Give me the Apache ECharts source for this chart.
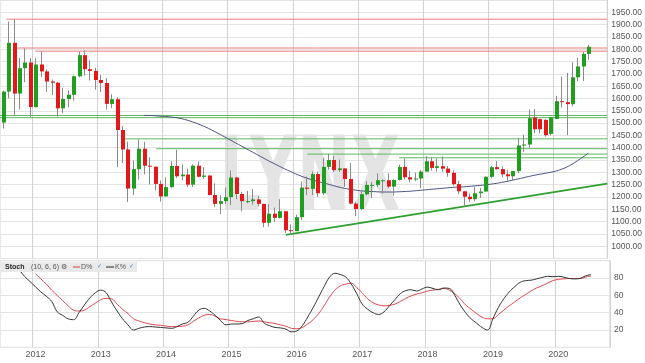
<!DOCTYPE html>
<html><head><meta charset="utf-8">
<script src="https://cdn.jsdelivr.net/npm/echarts@6/dist/echarts.min.js"></script>
<style>html,body{margin:0;padding:0;background:#fff}#c{width:645px;height:363px}</style>
</head><body><div id="c"></div>
<script>
// ---------- DATA ----------
const firstYear = 2011, firstMonth = 7;   // first candle: July 2011 (monthly candles)
const emptySlots = 3;                     // free space right of the last candle
// monthly candles [open, high, low, close]
const ohlc = [
 [1502,1632,1478,1628],[1628,1913,1600,1826],[1826,1921,1532,1620],[1620,1764,1555,1723],[1723,1803,1666,1746],[1746,1764,1523,1565],
 [1565,1764,1563,1738],[1738,1792,1688,1710],[1710,1718,1627,1669],[1669,1677,1614,1664],[1664,1667,1527,1560],[1560,1642,1540,1598],
 [1598,1633,1564,1615],[1615,1693,1591,1690],[1690,1790,1686,1776],[1776,1796,1693,1719],[1719,1755,1673,1712],[1712,1725,1636,1675],
 [1675,1695,1626,1663],[1663,1683,1555,1578],[1578,1617,1562,1597],[1597,1605,1321,1472],[1472,1488,1338,1393],[1393,1424,1180,1234],
 [1234,1348,1208,1313],[1313,1434,1271,1396],[1396,1424,1292,1327],[1327,1361,1251,1323],[1323,1324,1226,1253],[1253,1267,1181,1202],
 [1202,1280,1202,1240],[1240,1345,1237,1326],[1326,1392,1277,1284],[1284,1331,1268,1291],[1291,1315,1241,1250],[1250,1332,1240,1327],
 [1327,1345,1281,1282],[1282,1321,1273,1287],[1287,1288,1206,1208],[1208,1255,1160,1172],[1172,1208,1131,1183],[1183,1238,1171,1199],
 [1199,1307,1167,1279],[1279,1281,1191,1212],[1212,1220,1142,1183],[1183,1225,1175,1183],[1183,1232,1169,1190],[1190,1205,1162,1172],
 [1172,1172,1077,1095],[1095,1170,1080,1132],[1132,1157,1098,1115],[1115,1191,1112,1142],[1142,1142,1053,1065],[1065,1088,1046,1061],
 [1061,1128,1061,1118],[1118,1263,1107,1238],[1238,1283,1208,1233],[1233,1304,1208,1293],[1293,1303,1200,1215],[1215,1359,1208,1322],
 [1322,1375,1311,1350],[1350,1367,1301,1309],[1309,1352,1302,1316],[1316,1317,1241,1273],[1273,1338,1171,1173],[1173,1180,1122,1151],
 [1151,1220,1146,1211],[1211,1264,1207,1249],[1249,1261,1195,1249],[1249,1296,1240,1268],[1268,1271,1214,1268],[1268,1296,1236,1242],
 [1242,1272,1205,1269],[1269,1331,1267,1322],[1322,1357,1271,1280],[1280,1306,1260,1271],[1271,1299,1264,1275],[1275,1309,1236,1303],
 [1303,1366,1302,1345],[1345,1362,1307,1318],[1318,1356,1303,1325],[1325,1365,1302,1315],[1315,1326,1282,1298],[1298,1309,1246,1252],
 [1252,1265,1211,1223],[1223,1223,1160,1201],[1201,1214,1180,1191],[1191,1243,1182,1215],[1215,1237,1196,1222],[1222,1284,1221,1282],
 [1282,1326,1276,1321],[1321,1346,1311,1313],[1313,1324,1281,1292],[1292,1310,1266,1284],[1284,1306,1267,1305],[1305,1439,1296,1409],
 [1409,1453,1382,1413],[1413,1555,1400,1520],[1523,1557,1459,1475],[1516,1518,1459,1475],[1513,1516,1445,1451],[1456,1525,1450,1523],
 [1517,1611,1517,1589],[1589,1689,1563,1585],[1585,1704,1451,1577],[1577,1747,1568,1686],[1686,1765,1670,1730],[1730,1789,1671,1781],
 [1781,1818,1757,1810]
];
// moving average (starts at candle index maStart)
const maStart = 26;
const maValues = [1531,1531,1530,1528,1527,1525,1522,1518,1512,1505,1497,1488,1478,1467,1455,1443,1431,1419,1407,1395,
 1383,1371,1359,1347,1336,1325,1314,1304,1294,1285,1277,1270,1264,1258,1252,1246,1240,1235,1231,1228,
 1225,1223,1222,1221,1220,1220,1220,1221,1222,1223,1225,1227,1229,1231,1233,1235,1237,1239,1240,1241,
 1243,1245,1247,1249,1252,1255,1259,1263,1268,1273,1278,1283,1288,1292,1296,1300,1305,1312,1321,1333,
 1347,1362,1378];
// stochastic %K (from index kStart) and %D (from index dStart)
const kStart = 1;
const kValues = [96,92,89,82,76,70,64,59,53,41,37,33,32,40,49,57,63,66,63,52,42,33,26,20,22,23.5,24,23.5,23,22.5,
 22,24,27,29,36,43,45,42,37,31,26,27,27,27.5,31,33,35,28,25,23,22.5,21,18,19,25,35,46,58,70,81,
 85.5,84,81,73,62,50,44,40,38,41,48,55,62,65.5,66.5,65,67.5,69.5,68,66.5,68.5,68,60,49,40,33,28,23,20,33,
 46,56,64,70,75,77,77.5,79,80.5,82,81.5,82,81,79.5,79,79.5,82.5,84];
const dStart = 6;
const dValues = [85,79,73,66,60,54,48,43,42,43,47,51,55,56.5,56,50,44,39,33,30.5,28.5,27,26,25.5,24.5,24,24,24.5,26,30,
 34,37,38,36,33,32,31,30,29.5,29.5,30,30.5,29.5,28.5,27.5,26,24.5,22,21.5,23,27,32,39,48,58,66,71,73,74,69,
 63,56,51.5,49,48,48.5,50,53,56.5,59.5,61.5,63,65,66,67,68,66,62,56,49,44,39,35,33,33,38,43,48,52.5,57,
 61,65,68.5,71,74,77,78.5,79,79.5,79.5,79.5,81,82.5];
// horizontal lines [start candle index, price]
const redLevels = [[0.7,1922],[2.7,1805],[6,1792]];
const greenLevels = [[-0.5,1531],[-0.5,1522],[22.5,1436],[28.3,1396],[56.2,1374],[73.1,1359]];
// rising trend line [candle index, price]
const trendLine = [[52.2,1046],[111.5,1254]];
const priceRange = [950, 2000], priceStep = 50, priceLabelRange = [1000, 1950];
const stochRange = [0, 100], stochStep = 20, stochLabelRange = [20, 80];

// ---------- BUILD ----------
const categories = [];
for (let i = 0; i < ohlc.length + emptySlots; i++) {
  const m = firstMonth - 1 + i;
  const y = firstYear + Math.floor(m / 12), mm = (m % 12) + 1;
  categories.push(y + '-' + (mm < 10 ? '0' + mm : mm));
}
const lastX = categories.length - 0.5;
const candleData = ohlc.map((r, i) => [i, r[0], r[1], r[2], r[3]]);
function pad(start, arr) {
  const out = new Array(categories.length).fill(null);
  arr.forEach((v, i) => out[start + i] = v);
  return out;
}
const isJan = (idx, v) => v.slice(5) === '01';

function renderCandle(params, api) {
  const i = api.value(0), o = api.value(1), h = api.value(2), l = api.value(3), c = api.value(4);
  const pH = api.coord([i, h]), pL = api.coord([i, l]), pO = api.coord([i, o]), pC = api.coord([i, c]);
  const xc = Math.round(pH[0]);
  const top = Math.min(pO[1], pC[1]), bot = Math.max(pO[1], pC[1]);
  const up = c >= o;
  return {type: 'group', children: [
    {type: 'line', shape: {x1: xc + 0.5, y1: pH[1], x2: xc + 0.5, y2: pL[1]}, style: {stroke: '#8a8a8a', lineWidth: 1}},
    {type: 'rect', shape: {x: xc - 1, y: top, width: 4, height: Math.max(1, bot - top)}, style: {fill: up ? '#1f9e1f' : '#e4171b'}}
  ]};
}

const gridLine = {show: true, lineStyle: {color: '#e4e4e4', width: 1}};
const yearLine = {show: true, interval: isJan, lineStyle: {color: '#d2d2d2', width: 1}};
const levelSeries = (lv, color) => lv.map(l => ({
  type: 'line', xAxisIndex: 2, yAxisIndex: 0, data: [[l[0], l[1]], [lastX, l[1]]],
  symbol: 'none', silent: true, z: 3, lineStyle: {color: color, width: 1}
}));

const option = {
  animation: false,
  backgroundColor: '#ffffff',
  textStyle: {fontFamily: 'Liberation Sans'},
  grid: [
    {left: 0, right: 35, top: -4.5, height: 263, show: true, borderColor: '#cfcfcf', borderWidth: 1},
    {left: 0, right: 35, top: 260.7, height: 86.7, show: true, borderColor: '#cfcfcf', borderWidth: 1}
  ],
  xAxis: [
    {type: 'category', gridIndex: 0, data: categories, boundaryGap: true,
     axisLine: {show: false}, axisTick: {show: false}, axisLabel: {show: false}, splitLine: yearLine},
    {type: 'category', gridIndex: 1, data: categories, boundaryGap: true,
     axisLine: {show: false}, axisTick: {show: false},
     axisLabel: {interval: isJan, formatter: v => v.slice(0, 4), color: '#555', fontSize: 9, margin: 3},
     splitLine: yearLine},
    {type: 'value', gridIndex: 0, min: -0.5, max: lastX, show: false}
  ],
  yAxis: [
    {type: 'value', gridIndex: 0, position: 'right', min: priceRange[0], max: priceRange[1], interval: priceStep,
     axisLine: {show: false}, axisTick: {show: false}, splitLine: gridLine,
     axisLabel: {color: '#555', fontSize: 8.5, margin: 4,
       formatter: v => (v < priceLabelRange[0] || v > priceLabelRange[1]) ? '' : v.toFixed(2)}},
    {type: 'value', gridIndex: 1, position: 'right', min: stochRange[0], max: stochRange[1], interval: stochStep,
     axisLine: {show: false}, axisTick: {show: false}, splitLine: gridLine,
     axisLabel: {color: '#555', fontSize: 8.5, margin: 4,
       formatter: v => (v < stochLabelRange[0] || v > stochLabelRange[1]) ? '' : String(v)}}
  ],
  graphic: [
    {type: 'text', x: 219, y: 131, scaleX: 0.62, silent: true, z: -1,
     style: {text: 'LYNX', font: 'bold 104px "DejaVu Sans"', fill: 'rgba(0,0,0,0.105)'}},
    {type: 'rect', shape: {x: 0, y: 262, width: 137, height: 10}, style: {fill: '#e9e9e9'}, z: 100},
    {type: 'text', x: 5, y: 263.5, z: 101, style: {text: 'Stoch', font: 'bold 7px "Liberation Sans"', fill: '#222'}},
    {type: 'text', x: 31, y: 263.5, z: 101, style: {text: '(10, 6, 6) ⚙', font: '7px "Liberation Sans"', fill: '#555'}},
    {type: 'line', shape: {x1: 73, y1: 267, x2: 80, y2: 267}, style: {stroke: '#d9363e', lineWidth: 1}, z: 101},
    {type: 'text', x: 81, y: 263.5, z: 101, style: {text: 'D%', font: '7px "Liberation Sans"', fill: '#555'}},
    {type: 'text', x: 97, y: 263.5, z: 101, style: {text: '✓', font: '6px "DejaVu Sans"', fill: '#4a7ab0'}},
    {type: 'line', shape: {x1: 106, y1: 267, x2: 114, y2: 267}, style: {stroke: '#222', lineWidth: 1}, z: 101},
    {type: 'text', x: 115, y: 263.5, z: 101, style: {text: 'K%', font: '7px "Liberation Sans"', fill: '#555'}},
    {type: 'text', x: 129, y: 263.5, z: 101, style: {text: '✓', font: '6px "DejaVu Sans"', fill: '#4a7ab0'}}
  ],
  series: [
    ...levelSeries(redLevels, '#ef7b7b'),
    ...levelSeries(greenLevels, '#5cb85c'),
    {type: 'line', xAxisIndex: 2, yAxisIndex: 0, data: trendLine, symbol: 'none', silent: true, z: 3,
     lineStyle: {color: '#2f9f2f', width: 1.6}},
    {type: 'line', xAxisIndex: 0, yAxisIndex: 0, data: pad(maStart, maValues), symbol: 'none', smooth: 0.3,
     silent: true, z: 4, lineStyle: {color: '#4c5384', width: 1}},
    {type: 'custom', xAxisIndex: 0, yAxisIndex: 0, data: candleData, renderItem: renderCandle, z: 5,
     encode: {x: 0, y: [1, 2, 3, 4]}},
    {type: 'line', xAxisIndex: 1, yAxisIndex: 1, data: pad(dStart, dValues), symbol: 'none', smooth: 0.4,
     silent: true, lineStyle: {color: '#e0474c', width: 1}},
    {type: 'line', xAxisIndex: 1, yAxisIndex: 1, data: pad(kStart, kValues), symbol: 'none', smooth: 0.4,
     silent: true, lineStyle: {color: '#333333', width: 1}}
  ]
};
echarts.init(document.getElementById('c'), null, {renderer: 'canvas'}).setOption(option);
</script></body></html>
